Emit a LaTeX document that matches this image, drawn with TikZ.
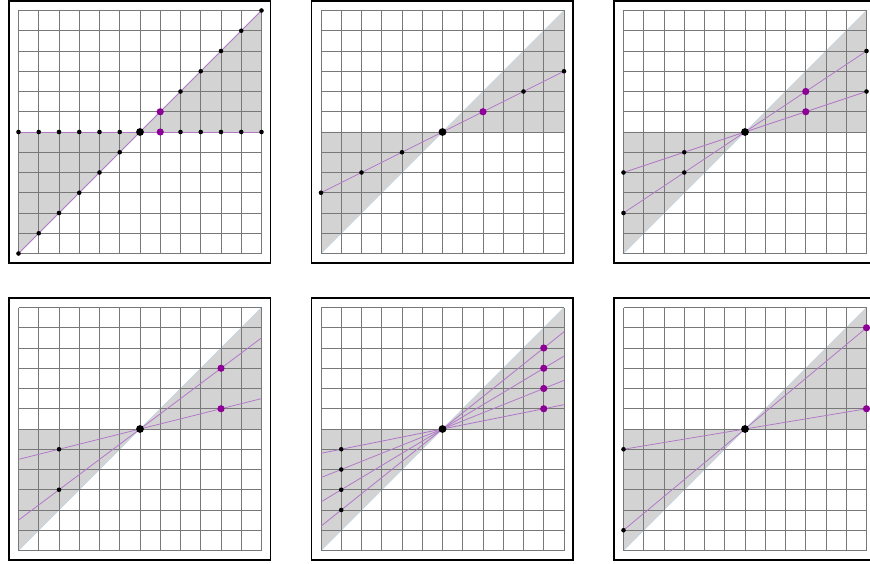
\documentclass[tikz,border=0pt]{standalone}
\definecolor{shadegray}{RGB}{211,211,211}
\definecolor{edgeblue}{RGB}{192,212,226}
\definecolor{gridgray}{RGB}{120,120,120}
\definecolor{linepurple}{RGB}{178,120,200}
\definecolor{dotpurple}{RGB}{140,0,150}
\tikzset{
  shadefill/.style={fill=shadegray},
  shadeedge/.style={draw=edgeblue, line width=0.6pt},
  gridline/.style={draw=gridgray, line width=0.75pt},
  frameline/.style={draw=black, line width=1.3pt},
  pline/.style={draw=linepurple, line width=0.8pt},
  sdot/.style={circle, fill=black, inner sep=0pt, minimum size=4.6pt},
  bdot/.style={circle, fill=black, inner sep=0pt, minimum size=7.8pt},
  pdot/.style={circle, fill=dotpurple, inner sep=0pt, minimum size=7.2pt},
}
\newcommand\panelbase{%
  \fill[shadefill] (0,0) -- (6,0) -- (6,6) -- cycle;
  \fill[shadefill] (0,0) -- (-6,0) -- (-6,-6) -- cycle;
  \draw[shadeedge] (-6,-6) -- (6,6);
  \draw[gridline, step=20.25pt] (-6,-6) grid (6,6);
  \draw[frameline] (-6.47,-6.47) rectangle (6.45,6.47);
}
\begin{document}
\begin{tikzpicture}
\useasboundingbox (0,0) rectangle (870pt,-564pt);
\fill[white] (0,0) rectangle (870pt,-564pt);
% Panel 1
\begin{scope}[shift={(140pt,-132pt)}, x=20.25pt, y=20.25pt]
  \panelbase
  \coordinate (A-l) at (-6,0); \coordinate (A-r) at (6,0);
  \coordinate (A-bl) at (-6,-6); \coordinate (A-tr) at (6,6);
  \draw[pline] (A-l) -- (A-r);
  \draw[pline] (A-bl) -- (A-tr);
  \foreach \i in {-6,-5,-4,-3,-2,-1,2,3,4,5,6} {
    \node[sdot] (A-h\i) at (\i,0) {};
    \node[sdot] (A-d\i) at (\i,\i) {};
  }
  \node[pdot] (A-p0) at (1,0) {};
  \node[pdot] (A-p1) at (1,1) {};
  \node[bdot] (A-o) at (0,0) {};
\end{scope}
% Panel 2
\begin{scope}[shift={(442.5pt,-132pt)}, x=20.25pt, y=20.25pt]
  \panelbase
  \coordinate (B-l) at (-6,-3); \coordinate (B-r) at (6,3);
  \draw[pline] (B-l) -- (B-r);
  \foreach \i in {-6,-4,-2,4,6} {
    \node[sdot] (B-d\i) at (\i,\i/2) {};
  }
  \node[pdot] (B-p) at (2,1) {};
  \node[bdot] (B-o) at (0,0) {};
\end{scope}
% Panel 3
\begin{scope}[shift={(745pt,-132pt)}, x=20.25pt, y=20.25pt]
  \panelbase
  \coordinate (C-l1) at (-6,-2); \coordinate (C-r1) at (6,2);
  \coordinate (C-l2) at (-6,-4); \coordinate (C-r2) at (6,4);
  \draw[pline] (C-l1) -- (C-r1);
  \draw[pline] (C-l2) -- (C-r2);
  \foreach \k in {1,2} {
    \node[sdot] (C-a\k) at (-6,-2*\k) {};
    \node[sdot] (C-b\k) at (-3,-\k) {};
    \node[sdot] (C-e\k) at (6,2*\k) {};
    \node[pdot] (C-p\k) at (3,\k) {};
  }
  \node[bdot] (C-o) at (0,0) {};
\end{scope}
% Panel 4
\begin{scope}[shift={(140pt,-429pt)}, x=20.25pt, y=20.25pt]
  \panelbase
  \coordinate (D-l1) at (-6,-1.5); \coordinate (D-r1) at (6,1.5);
  \coordinate (D-l3) at (-6,-4.5); \coordinate (D-r3) at (6,4.5);
  \draw[pline] (D-l1) -- (D-r1);
  \draw[pline] (D-l3) -- (D-r3);
  \foreach \k in {1,3} {
    \node[sdot] (D-b\k) at (-4,-\k) {};
    \node[pdot] (D-p\k) at (4,\k) {};
  }
  \node[bdot] (D-o) at (0,0) {};
\end{scope}
% Panel 5
\begin{scope}[shift={(442.5pt,-429pt)}, x=20.25pt, y=20.25pt]
  \panelbase
  \foreach \k in {1,2,3,4} {
    \coordinate (E-l\k) at (-6,-6*\k/5);
    \coordinate (E-r\k) at (6,6*\k/5);
    \draw[pline] (E-l\k) -- (E-r\k);
  }
  \foreach \k in {1,2,3,4} {
    \node[sdot] (E-b\k) at (-5,-\k) {};
    \node[pdot] (E-p\k) at (5,\k) {};
  }
  \node[bdot] (E-o) at (0,0) {};
\end{scope}
% Panel 6
\begin{scope}[shift={(745pt,-429pt)}, x=20.25pt, y=20.25pt]
  \panelbase
  \coordinate (F-l1) at (-6,-1); \coordinate (F-r1) at (6,1);
  \coordinate (F-l5) at (-6,-5); \coordinate (F-r5) at (6,5);
  \draw[pline] (F-l1) -- (F-r1);
  \draw[pline] (F-l5) -- (F-r5);
  \foreach \k in {1,5} {
    \node[sdot] (F-b\k) at (F-l\k) {};
    \node[pdot] (F-p\k) at (F-r\k) {};
  }
  \node[bdot] (F-o) at (0,0) {};
\end{scope}
\end{tikzpicture}
\end{document}
